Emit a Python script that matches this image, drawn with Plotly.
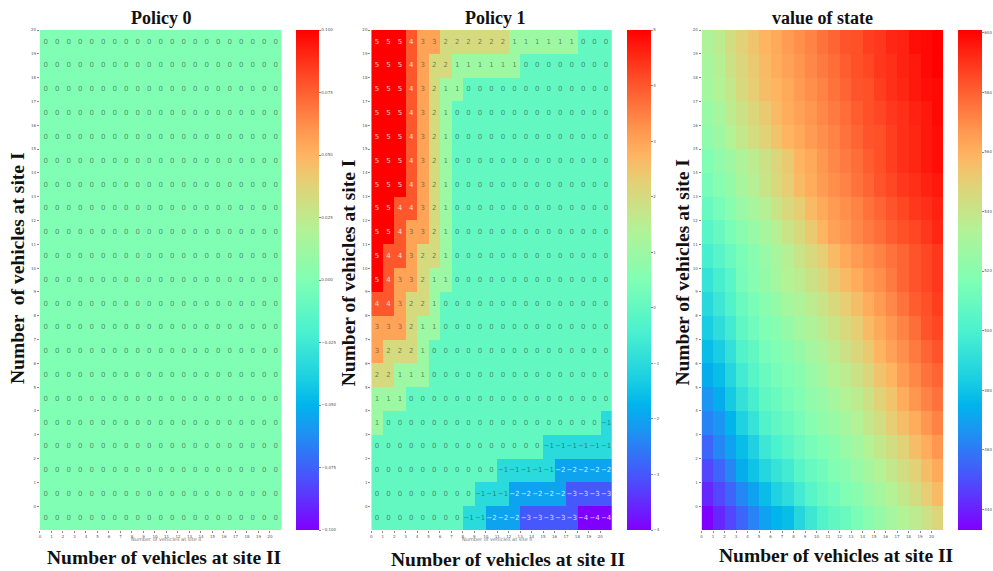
import plotly.graph_objects as go

W, H = 993, 571
TICKS = list(range(21))

# rows listed from site I = 20 (top) down to site I = 0 (bottom); columns are site II = 0..20
policy_0 = [[0] * 21 for _ in range(21)]

policy_1 = [
    [5,5,5,4,3,3,2,2,2,2,2,2,1,1,1,1,1,1,0,0,0],
    [5,5,5,4,3,2,2,1,1,1,1,1,1,0,0,0,0,0,0,0,0],
    [5,5,5,4,3,2,1,1,0,0,0,0,0,0,0,0,0,0,0,0,0],
    [5,5,5,4,3,2,1,0,0,0,0,0,0,0,0,0,0,0,0,0,0],
    [5,5,5,4,3,2,1,0,0,0,0,0,0,0,0,0,0,0,0,0,0],
    [5,5,5,4,3,2,1,0,0,0,0,0,0,0,0,0,0,0,0,0,0],
    [5,5,5,4,3,2,1,0,0,0,0,0,0,0,0,0,0,0,0,0,0],
    [5,5,4,4,3,2,1,0,0,0,0,0,0,0,0,0,0,0,0,0,0],
    [5,5,4,3,3,2,1,0,0,0,0,0,0,0,0,0,0,0,0,0,0],
    [5,4,4,3,2,2,1,0,0,0,0,0,0,0,0,0,0,0,0,0,0],
    [5,4,3,3,2,1,1,0,0,0,0,0,0,0,0,0,0,0,0,0,0],
    [4,4,3,2,2,1,0,0,0,0,0,0,0,0,0,0,0,0,0,0,0],
    [3,3,3,2,1,1,0,0,0,0,0,0,0,0,0,0,0,0,0,0,0],
    [3,2,2,2,1,0,0,0,0,0,0,0,0,0,0,0,0,0,0,0,0],
    [2,2,1,1,1,0,0,0,0,0,0,0,0,0,0,0,0,0,0,0,0],
    [1,1,1,0,0,0,0,0,0,0,0,0,0,0,0,0,0,0,0,0,0],
    [1,0,0,0,0,0,0,0,0,0,0,0,0,0,0,0,0,0,0,0,-1],
    [0,0,0,0,0,0,0,0,0,0,0,0,0,0,0,-1,-1,-1,-1,-1,-1],
    [0,0,0,0,0,0,0,0,0,0,0,-1,-1,-1,-1,-1,-2,-2,-2,-2,-2],
    [0,0,0,0,0,0,0,0,0,-1,-1,-1,-2,-2,-2,-2,-2,-3,-3,-3,-3],
    [0,0,0,0,0,0,0,0,-1,-1,-2,-2,-2,-3,-3,-3,-3,-3,-4,-4,-4],
]

state_value = [
    [532,537,544,549,554,559,562,566,569,572,576,579,583,584,588,589,593,594,598,599,601],
    [530,535,542,547,552,557,561,564,567,571,574,577,581,584,586,589,591,594,596,599,601],
    [529,534,539,546,551,556,559,562,566,569,572,576,579,583,584,588,591,593,596,598,599],
    [525,530,537,542,547,552,557,561,564,567,571,574,577,581,584,586,589,591,594,596,599],
    [522,527,534,539,544,549,554,559,562,566,569,572,576,579,583,584,588,591,593,596,598],
    [517,522,527,532,537,542,547,552,559,562,567,571,574,577,581,584,588,591,593,596,598],
    [514,519,524,530,535,541,546,551,557,561,566,569,572,576,579,583,586,589,591,594,596],
    [509,514,520,525,530,535,541,546,551,557,562,566,569,572,576,579,583,586,589,591,594],
    [504,509,515,520,525,530,535,541,546,552,559,564,567,571,574,577,581,584,586,589,593],
    [499,504,510,515,520,525,530,535,541,546,551,557,562,566,569,572,576,579,583,586,589],
    [493,499,505,514,519,524,529,534,537,542,546,552,557,561,566,569,574,579,583,586,589],
    [488,495,502,510,515,520,524,529,532,537,541,546,551,556,561,566,571,576,581,584,588],
    [483,490,497,507,512,517,520,524,529,532,537,541,546,551,557,562,567,572,577,583,586],
    [478,483,492,502,507,514,517,520,524,529,532,537,542,547,552,559,564,569,574,579,583],
    [473,478,487,497,504,510,514,517,520,525,529,534,537,542,547,554,559,566,571,576,579],
    [467,473,482,492,499,507,510,514,517,522,525,529,534,537,542,549,554,561,567,572,576],
    [462,467,475,485,493,502,507,510,514,519,522,525,529,534,539,544,551,556,561,567,572],
    [455,463,470,478,485,495,500,505,510,514,517,520,525,529,534,539,544,549,556,561,567],
    [448,455,463,473,480,487,493,497,504,509,512,517,520,525,529,534,539,544,549,556,562],
    [441,448,455,463,470,478,485,490,497,504,509,512,517,520,525,529,534,539,544,551,557],
    [433,441,448,455,462,470,475,478,487,495,502,507,510,515,520,524,529,534,537,542,547],
]

cbar_0_vals = [-0.1, -0.075, -0.05, -0.025, 0, 0.025, 0.05, 0.075, 0.1]
cbar_0_text = ["\u22120.100", "\u22120.075", "\u22120.050", "\u22120.025", "0.000", "0.025", "0.050", "0.075", "0.100"]
cbar_1_vals = [-4, -3, -2, -1, 0, 1, 2, 3, 4, 5]
cbar_1_text = ["\u22124", "\u22123", "\u22122", "\u22121", "0", "1", "2", "3", "4", "5"]
cbar_2_vals = [440, 460, 480, 500, 520, 540, 560, 580, 600]
cbar_2_text = ["440", "460", "480", "500", "520", "540", "560", "580", "600"]

rainbow = [
    [0.0, "#8000ff"], [0.1, "#4c4ffc"], [0.2, "#1a96f2"], [0.25, "#00b4ec"], [0.3, "#1acee3"],
    [0.4, "#4cf2ce"], [0.5, "#80ffb4"], [0.6, "#b3f296"], [0.7, "#e6ce74"], [0.75, "#ffb462"],
    [0.8, "#ff964f"], [0.9, "#ff4f28"], [1.0, "#ff0000"],
]

panels = [
    dict(z=policy_0, x0=40, x1=282, cb=297, cbw=23, zmin=-0.1, zmax=0.1, tv=cbar_0_vals, tt=cbar_0_text, text=True,
         title="Policy 0", tx=162, ty=18, xl="Number of vehicles at site II", xlx=164, xly=557,
         yl="Number  of vehicles at site I", ylx=17, yly=268, small=166),
    dict(z=policy_1, x0=372, x1=613, cb=628, cbw=24, zmin=-4, zmax=5, tv=cbar_1_vals, tt=cbar_1_text, text=True,
         title="Policy 1", tx=497, ty=18, xl="Number of vehicles at site II", xlx=509, xly=559,
         yl="Number of vehicles at site I", ylx=349, yly=273, small=498),
    dict(z=state_value, x0=703, x1=945, cb=960, cbw=24, zmin=433, zmax=601, tv=cbar_2_vals, tt=cbar_2_text, text=False,
         title="value of state", tx=824, ty=18, xl="Number of vehicles at site II", xlx=838, xly=555,
         yl="Number of vehicles at site I", ylx=683, yly=272, small=None),
]

TOP, BOT = 30, 530
SERIF = "Liberation Serif"
TICKFONT = dict(size=4, color="#555555", family="DejaVu Sans")

fig = go.Figure()
anns = []
layout = {}

for i, p in enumerate(panels, start=1):
    rows = p["z"]
    bottom_up = rows[::-1]
    xa = f"x{i}" if i > 1 else "x"
    ya = f"y{i}" if i > 1 else "y"
    fig.add_trace(go.Heatmap(
        z=bottom_up, x0=0.5, dx=1, y0=-0.5, dy=1, xaxis=xa, yaxis=ya,
        zmin=p["zmin"], zmax=p["zmax"], colorscale=rainbow, hoverinfo="skip",
        colorbar=dict(
            x=p["cb"] / W, xanchor="left", xpad=0, ypad=0,
            y=1 - TOP / H, yanchor="top", len=(BOT - TOP) / H, lenmode="fraction",
            thickness=p["cbw"], thicknessmode="pixels", outlinewidth=0,
            tickmode="array", tickvals=p["tv"], ticktext=p["tt"],
            ticks="outside", ticklen=2, tickwidth=0.5, tickcolor="#888888", tickfont=TICKFONT,
        ),
    ))
    if p["text"]:
        xs, ys, ts, cs = [], [], [], []
        for r, row in enumerate(bottom_up):
            for c, v in enumerate(row):
                xs.append(c + 0.5)
                ys.append(r - 0.5)
                ts.append(str(v).replace("-", "\u2212"))
                cs.append("rgba(255,255,255,0.8)" if (v <= -2 or v >= 4) else "rgba(50,60,55,0.62)")
        fig.add_trace(go.Scatter(
            x=xs, y=ys, text=ts, mode="text", xaxis=xa, yaxis=ya, showlegend=False, hoverinfo="skip",
            textposition="middle center", textfont=dict(size=7, color=cs, family="DejaVu Sans"),
        ))
    key = "" if i == 1 else str(i)
    layout[f"xaxis{key}"] = dict(
        domain=[p["x0"] / W, p["x1"] / W], range=[0, 21], tickmode="array", tickvals=TICKS,
        ticktext=[str(t) for t in TICKS], ticks="outside", ticklen=2, tickwidth=0.5, tickcolor="#888888",
        tickfont=TICKFONT, showgrid=False, zeroline=False, showline=False, anchor=ya, automargin=False,
    )
    layout[f"yaxis{key}"] = dict(
        domain=[1 - BOT / H, 1 - TOP / H], range=[-1, 20], tickmode="array", tickvals=TICKS,
        ticktext=[str(t) for t in TICKS], ticks="outside", ticklen=2, tickwidth=0.5, tickcolor="#888888",
        tickfont=TICKFONT, showgrid=False, zeroline=False, showline=False, anchor=xa, automargin=False,
    )
    anns.append(dict(text=f"<b>{p['title']}</b>", x=p["tx"] / W, y=1 - p["ty"] / H, xref="paper", yref="paper",
                     showarrow=False, xanchor="center", yanchor="middle", font=dict(family=SERIF, size=18, color="#111111")))
    anns.append(dict(text=f"<b>{p['xl']}</b>", x=p["xlx"] / W, y=1 - p["xly"] / H, xref="paper", yref="paper",
                     showarrow=False, xanchor="center", yanchor="middle", font=dict(family=SERIF, size=19.5, color="#111111")))
    anns.append(dict(text=f"<b>{p['yl']}</b>", x=p["ylx"] / W, y=1 - p["yly"] / H, xref="paper", yref="paper",
                     showarrow=False, xanchor="center", yanchor="middle", textangle=-90,
                     font=dict(family=SERIF, size=19.5, color="#111111")))
    if p["small"] is not None:
        anns.append(dict(text=p["xl"], x=p["small"] / W, y=1 - 539 / H, xref="paper", yref="paper",
                         showarrow=False, xanchor="center", yanchor="middle",
                         font=dict(family="DejaVu Sans", size=5, color="#777777")))

fig.update_layout(
    width=W, height=H, margin=dict(l=0, r=0, t=0, b=0), paper_bgcolor="white", plot_bgcolor="white",
    showlegend=False, annotations=anns, **layout,
)
fig.write_html("out.html", config={"displayModeBar": False},
               post_script="document.body.style.margin='0';document.documentElement.style.overflow='hidden';")
